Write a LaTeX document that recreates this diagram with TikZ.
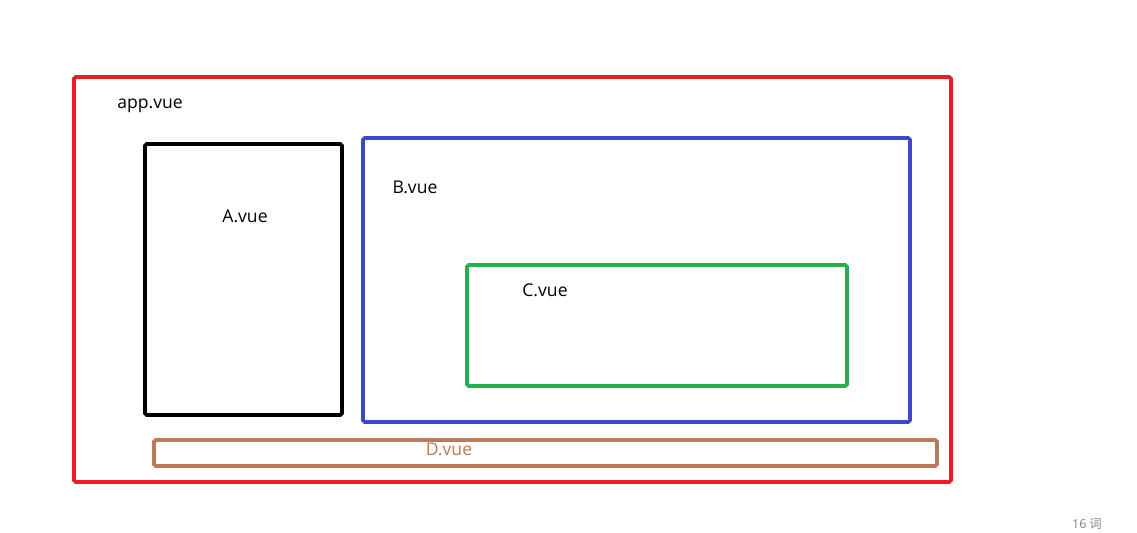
\documentclass[tikz,border=0pt]{standalone}
\usepackage{fontspec}
\setmainfont{Open Sans}
\newfontfamily\cjk{Noto Sans CJK SC}
\usepackage{tikz}
\usetikzlibrary{positioning}
\definecolor{appred}{HTML}{ED1C24}
\definecolor{bblue}{HTML}{3F48CC}
\definecolor{cgreen}{HTML}{22B14C}
\definecolor{dbrown}{HTML}{B97A57}
\tikzset{x=0.02cm, y=-0.02cm, % One unit is one pixel of the drawing
comp/.style={ % Sets the properties for each component frame
line width=2.2pt,
rounded corners=1pt},
vuename/.style={ % Sets the properties for each component name
font=\fontsize{10}{12}\selectfont,
inner sep=0pt}}

\begin{document}
\begin{tikzpicture}
    
    \useasboundingbox (0,0) rectangle (1137,532);
    
    \draw[comp, appred] (74,77) rectangle (951,482);
    \draw[comp, black] (145,144) rectangle (342,415);
    \draw[comp, bblue] (363,138) rectangle (910,422);
    \draw[comp, cgreen] (467,265) rectangle (847,386);
    \draw[comp, dbrown] (154,440) rectangle (937,466);
    
    \node[vuename] (app) at (150,106) {app.vue};
    \node[vuename] (a) at (245,216) {A.vue};
    \node[vuename] (b) at (415,187) {B.vue};
    \node[vuename] (c) at (545,290) {C.vue};
    \node[vuename, text=dbrown] (d) at (449,449) {D.vue};
    \node[vuename, font=\fontsize{7}{8}\selectfont, text=gray] (count) at (1087,524) {16 {\cjk 词}};
    
\end{tikzpicture}
\end{document}
